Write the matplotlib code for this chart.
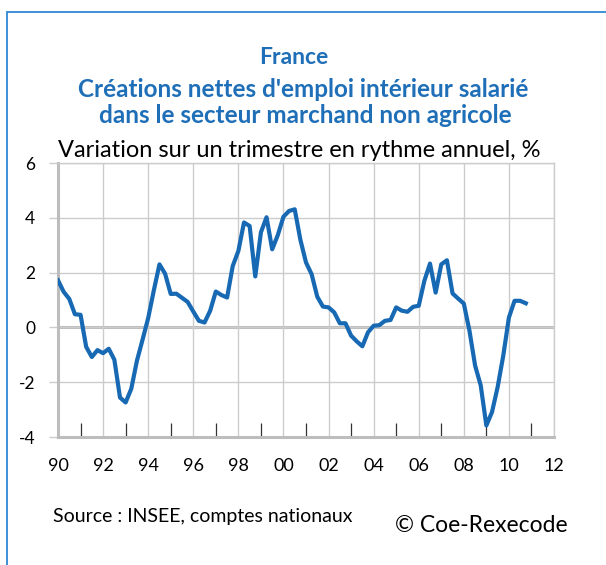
# Créations nettes d'emploi salarié, France, variation trimestrielle annualisée
import numpy as np
import matplotlib.pyplot as plt
from matplotlib.patches import Rectangle
from matplotlib.ticker import FixedLocator

plt.rcParams['font.family'] = ['Lato', 'DejaVu Sans']

## DONNEES #######################
start_year = 1990
emploi = [1.72, 1.30, 1.04, 0.48,
          0.46, -0.71, -1.08, -0.83,
          -0.94, -0.78, -1.18, -2.56,
          -2.74, -2.24, -1.22, -0.45,
          0.34, 1.35, 2.30, 1.96,
          1.22, 1.23, 1.08, 0.93,
          0.58, 0.24, 0.18, 0.61,
          1.31, 1.18, 1.09, 2.24,
          2.79, 3.83, 3.70, 1.86,
          3.47, 4.02, 2.85, 3.37,
          4.04, 4.25, 4.31, 3.20,
          2.37, 1.94, 1.12, 0.76,
          0.73, 0.55, 0.15, 0.15,
          -0.30, -0.51, -0.69, -0.18,
          0.06, 0.08, 0.24, 0.27,
          0.73, 0.61, 0.57, 0.75,
          0.79, 1.70, 2.33, 1.27,
          2.30, 2.45, 1.24, 1.05,
          0.87, -0.12, -1.39, -2.12,
          -3.58, -3.09, -2.18, -1.03,
          0.36, 0.97, 0.97, 0.88]
xtick_years = list(range(1990, 2013, 2))
xtick_labels = ['90', '92', '94', '96', '98', '00', '02', '04', '06', '08', '10', '12']
yticks = [-4, -2, 0, 2, 4, 6]
##################################

t = start_year + np.arange(len(emploi)) / 4.

blue = '#1769b3'
title_blue = '#1f6fb8'
grid_col = '#cccccc'

fig = plt.figure(figsize=(6.06, 5.65), dpi=100)
ax = fig.add_axes([58/606., 1 - 437/565., (554 - 58)/606., (437 - 163)/565.])

ax.plot(t, emploi, color=blue, lw=3.0, solid_joinstyle='round', zorder=5)

ax.set_xlim(1990, 2012)
ax.set_ylim(-4, 6)
ax.xaxis.set_major_locator(FixedLocator(xtick_years))
ax.set_xticklabels(xtick_labels)
ax.xaxis.set_minor_locator(FixedLocator(range(1991, 2012, 2)))
ax.set_yticks(yticks)
ax.set_yticklabels([str(v) for v in yticks])

ax.grid(True, which='major', color=grid_col, lw=1.0, zorder=0)
ax.axhline(0, color='#bdbdbd', lw=2.2, zorder=1)

ax.tick_params(axis='x', which='major', length=0, pad=15, labelsize=13)
ax.tick_params(axis='x', which='minor', direction='in', length=10,
               width=0.9, color='#333333')
ax.tick_params(axis='y', which='major', direction='out', length=6.5,
               width=1.0, color=grid_col, pad=10, labelsize=12.5)

for s in ['left', 'bottom']:
    ax.spines[s].set_color('#bdbdbd')
    ax.spines[s].set_linewidth(2.2)
for s in ['top', 'right']:
    ax.spines[s].set_color(grid_col)
    ax.spines[s].set_linewidth(1.0)

# titres
fig.text(0.484, 1 - 64/565., 'France', ha='center', va='baseline',
         fontsize=16.5, fontweight='bold', color=title_blue)
fig.text(0.501, 1 - 96.7/565., "Créations nettes d'emploi intérieur salarié",
         ha='center', va='baseline', fontsize=17.5, fontweight='bold', color=title_blue)
fig.text(0.503, 1 - 123/565., 'dans le secteur marchand non agricole',
         ha='center', va='baseline', fontsize=17.5, fontweight='bold', color=title_blue)
fig.text(0.494, 1 - 156.7/565., 'Variation sur un trimestre en rythme annuel, %',
         ha='center', va='baseline', fontsize=17, color='black')

fig.text(53/606., 1 - 522/565., 'Source : INSEE, comptes nationaux',
         ha='left', va='baseline', fontsize=14, color='black')
fig.text(568/606., 1 - 531.7/565., '© Coe-Rexecode',
         ha='right', va='baseline', fontsize=16.5, color='black')

# cadre bleu
fig.patches.append(Rectangle((7/606., -0.1), 1.2, 1 - 12/565. + 0.1,
                             transform=fig.transFigure, fill=False,
                             edgecolor='#2f88d4', lw=1.3, zorder=0))

fig.savefig('out.png', dpi=100)
